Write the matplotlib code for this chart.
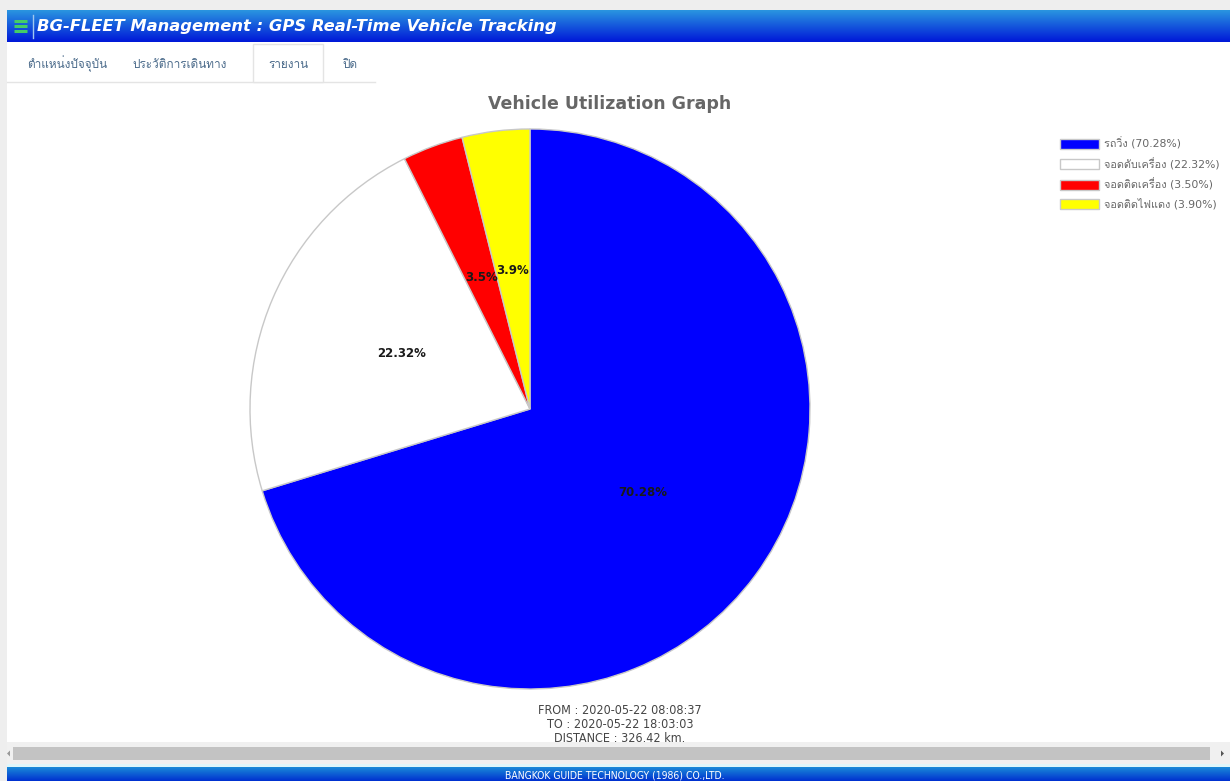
import numpy as np
import matplotlib
matplotlib.use("Agg")
import matplotlib.pyplot as plt
from matplotlib import font_manager
from matplotlib.ft2font import FT2Font
from matplotlib.patches import Rectangle, Polygon

# ---------------- data ----------------
categories = ["รถวิ่ง", "จอดดับเครื่อง", "จอดติดเครื่อง", "จอดติดไฟแดง"]
values = [70.28, 22.32, 3.50, 3.90]
slice_labels = ["70.28%", "22.32%", "3.5%", "3.9%"]
colors = ["#0000ff", "#ffffff", "#ff0000", "#ffff00"]
tabs = ["ตำแหน่งปัจจุบัน", "ประวัติการเดินทาง", "รายงาน", "ปิด"]
header_title = "BG-FLEET Management : GPS Real-Time Vehicle Tracking"
chart_title = "Vehicle Utilization Graph"
info_lines = ["FROM : 2020-05-22 08:08:37", "TO : 2020-05-22 18:03:03", "DISTANCE : 326.42 km."]
footer_text = "BANGKOK GUIDE TECHNOLOGY (1986) CO.,LTD."

# ---------------- font with Thai glyphs ----------------
thai_family = None
for fe in font_manager.fontManager.ttflist:
    try:
        f = FT2Font(fe.fname)
        cm = f.get_charmap()
        if 0x0E23 in cm and 0x0E48 in cm:
            thai_family = fe.name
            break
    except Exception:
        pass
fam = ["DejaVu Sans"] + ([thai_family] if thai_family else [])
plt.rcParams["font.family"] = fam

W, H = 1230, 781
fig = plt.figure(figsize=(W / 100, H / 100), dpi=100)
fig.patch.set_facecolor("white")

# ---------------- page decorations ----------------
bg = fig.add_axes([0, 0, 1, 1])
bg.set_xlim(0, W)
bg.set_ylim(H, 0)
bg.axis("off")

bg.add_patch(Rectangle((0, 0), W, 10, color="#eeeeee", lw=0))
bg.add_patch(Rectangle((0, 0), 7, H, color="#eeeeee", lw=0))

def vgrad(x0, x1, y0, y1, c_top, c_bot, z=1):
    ct = np.array(matplotlib.colors.to_rgb(c_top))
    cb = np.array(matplotlib.colors.to_rgb(c_bot))
    t = np.linspace(0, 1, 64)[:, None]
    img = (ct * (1 - t) + cb * t)[:, None, :]
    bg.imshow(img, extent=(x0, x1, y1, y0), aspect="auto", zorder=z, interpolation="bilinear")

vgrad(7, W, 10, 42, "#2a95e0", "#0018d8")
# hamburger
for yy in (21, 26, 31):
    bg.plot([14, 27], [yy, yy], color="#44cc66", lw=2.2, zorder=3, solid_capstyle="butt")
bg.plot([33, 33], [15, 38], color="#9fc8f0", lw=1, zorder=3)
bg.text(37, 27, header_title, color="white", fontsize=11.8, fontweight="bold",
        fontstyle="italic", va="center", ha="left", zorder=3, family="DejaVu Sans")

# tabs
bg.plot([7, 375], [82, 82], color="#e4e4e4", lw=1, zorder=2)
bg.add_patch(Rectangle((253, 44), 70, 38, facecolor="white", edgecolor="#e4e4e4", lw=1, zorder=2))
tab_x = [67, 180, 288, 350]
for tx, tl in zip(tab_x, tabs):
    bg.text(tx, 64, tl, color="#4a6a8a", fontsize=8.5, ha="center", va="center", zorder=3, family=fam)

# chart title
bg.text(610, 104, chart_title, color="#666666", fontsize=12.5, fontweight="bold",
        ha="center", va="center", zorder=3)

# info lines
for i, line in enumerate(info_lines):
    bg.text(620, 711 + i * 13.5, line, color="#444444", fontsize=9, ha="center", va="center",
            zorder=3, fontstretch="condensed")

# scrollbar
bg.add_patch(Rectangle((7, 742), W - 7, 22, color="#f0f0f0", lw=0, zorder=1))
bg.add_patch(Rectangle((13, 747), 1197, 13, color="#c3c3c3", lw=0, zorder=2))
bg.add_patch(Polygon([[7, 753.5], [10, 750.5], [10, 756.5]], closed=True, color="#999999", lw=0, zorder=3))
bg.add_patch(Polygon([[1224, 753.5], [1221, 750.5], [1221, 756.5]], closed=True, color="#555555", lw=0, zorder=3))

# footer
bg.add_patch(Rectangle((7, 764), W - 7, 3, color="#dff6fa", lw=0, zorder=1))
vgrad(7, W, 767, H, "#1a8ad8", "#0030d0")
bg.text(615, 775, footer_text, color="white", fontsize=7.5, ha="center", va="center",
        zorder=3, fontstretch="condensed")

# ---------------- pie ----------------
cx, cy, r = 530, 409, 280
ax = fig.add_axes([(cx - r) / W, (H - cy - r) / H, 2 * r / W, 2 * r / H])
wedges, texts = ax.pie(values, colors=colors, startangle=90, counterclock=False,
                       labels=slice_labels, labeldistance=0.5,
                       wedgeprops=dict(edgecolor="#c8c8c8", linewidth=1),
                       textprops=dict(fontsize=8.5, fontweight="bold", color="#1a1a1a",
                                      ha="center", va="center"))
ax.set_xlim(-1, 1)
ax.set_ylim(-1, 1)
ax.set_aspect("equal")
ax.axis("off")

# ---------------- legend ----------------
leg_labels = [f"{c} ({v:.2f}%)" for c, v in zip(categories, values)]
leg = fig.legend(wedges, leg_labels, loc="upper left",
                 bbox_to_anchor=(1056 / W, 1 - 133 / H), frameon=False,
                 handlelength=3.6, handleheight=1.05,
                 labelspacing=0.72, handletextpad=0.45, borderaxespad=0,
                 prop=dict(family=fam, size=7.8))
for t in leg.get_texts():
    t.set_color("#666666")

fig.savefig("out.png", dpi=100)
